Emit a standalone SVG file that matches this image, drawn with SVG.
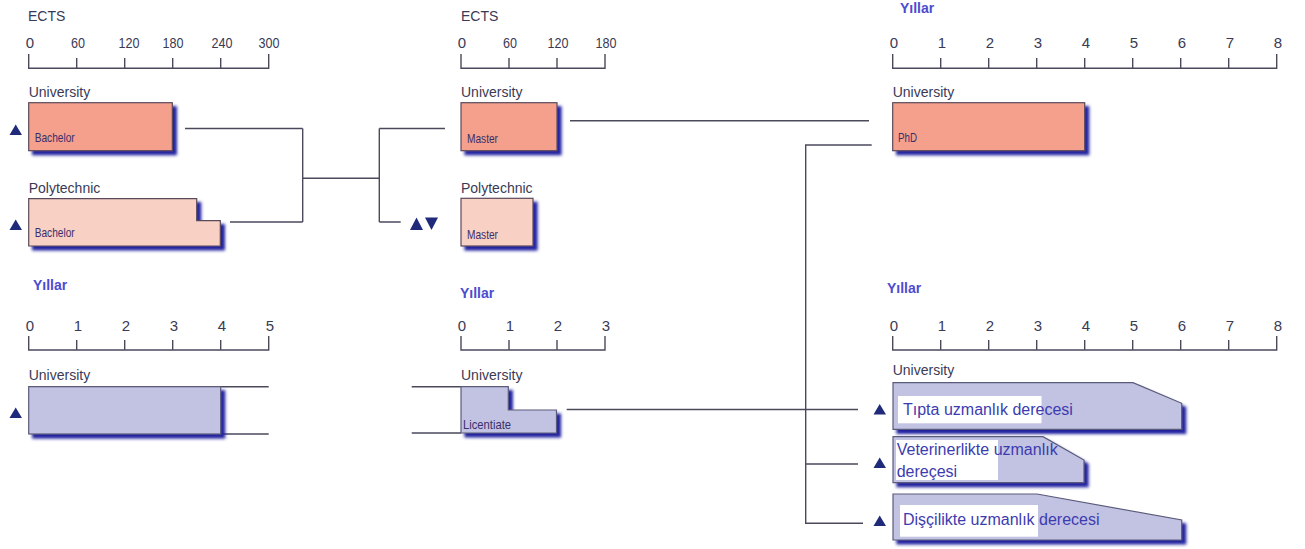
<svg xmlns="http://www.w3.org/2000/svg" width="1305" height="549" viewBox="0 0 1305 549">
<style>
.ax{fill:none;stroke:#4a4a5c;stroke-width:1.4}
.con{fill:none;stroke:#4a4a5c;stroke-width:1.4}
.t{font-family:"Liberation Sans",Arial,sans-serif;fill:#3a3a55}
.num{font-size:15px;text-anchor:middle}
.lbl{font-size:14px}
.yil{font-family:"Liberation Sans",Arial,sans-serif;font-size:14px;font-weight:bold;fill:#4c4cd0}
.in{font-family:"Liberation Sans",Arial,sans-serif;font-size:13px;fill:#3b2f6b}
.uni{fill:#f4a08c;stroke:#5a4a5a;stroke-width:1.2}
.poly{fill:#f9d0c4;stroke:#5a4a5a;stroke-width:1.2}
.yr{fill:#c2c2e2;stroke:#5a5a7a;stroke-width:1.2}
.tri{fill:#1f2a7a}
.big{font-family:"Liberation Sans",Arial,sans-serif;font-size:16px;fill:#3c3cb0}
</style>
<defs>
<filter id="sh" x="-10%" y="-20%" width="125%" height="150%">
<feGaussianBlur in="SourceAlpha" stdDeviation="1.6"/>
<feOffset dx="4" dy="4" result="b"/>
<feFlood flood-color="#2222a0"/>
<feComposite in2="b" operator="in"/>
<feMerge><feMergeNode/><feMergeNode in="SourceGraphic"/></feMerge>
</filter>
</defs>
<rect width="1305" height="549" fill="#ffffff"/>

<!-- Axes -->
<g id="axis-ects-left">
<text class="t lbl" x="28" y="21">ECTS</text>
<path class="ax" d="M28.7,54V68.3H268.7V54M76.7,68.3V58M124.7,68.3V58M172.7,68.3V58M220.7,68.3V58"/>
<text class="t num" x="30" y="48">0</text>
<text class="t num" x="78" y="48" textLength="14" lengthAdjust="spacingAndGlyphs">60</text>
<text class="t num" x="129" y="48" textLength="21" lengthAdjust="spacingAndGlyphs">120</text>
<text class="t num" x="173" y="48" textLength="21" lengthAdjust="spacingAndGlyphs">180</text>
<text class="t num" x="222" y="48" textLength="21" lengthAdjust="spacingAndGlyphs">240</text>
<text class="t num" x="269" y="48" textLength="21" lengthAdjust="spacingAndGlyphs">300</text>
</g>
<g id="axis-ects-mid">
<text class="t lbl" x="461" y="21">ECTS</text>
<path class="ax" d="M461,54V68.3H605V54M509,68.3V58M557,68.3V58"/>
<text class="t num" x="462" y="48">0</text>
<text class="t num" x="510" y="48" textLength="14" lengthAdjust="spacingAndGlyphs">60</text>
<text class="t num" x="558" y="48" textLength="21" lengthAdjust="spacingAndGlyphs">120</text>
<text class="t num" x="606" y="48" textLength="21" lengthAdjust="spacingAndGlyphs">180</text>
</g>
<g id="axis-years-topright">
<text class="yil" x="900" y="13">Yıllar</text>
<path class="ax" d="M892.7,54V68.3H1276.7V54M940.7,68.3V58M988.7,68.3V58M1036.7,68.3V58M1084.7,68.3V58M1132.7,68.3V58M1180.7,68.3V58M1228.7,68.3V58"/>
<text class="t num" x="894" y="48">0</text>
<text class="t num" x="942" y="48">1</text>
<text class="t num" x="990" y="48">2</text>
<text class="t num" x="1038" y="48">3</text>
<text class="t num" x="1086" y="48">4</text>
<text class="t num" x="1134" y="48">5</text>
<text class="t num" x="1182" y="48">6</text>
<text class="t num" x="1230" y="48">7</text>
<text class="t num" x="1278" y="48">8</text>
</g>
<g id="axis-years-left">
<text class="yil" x="33" y="290">Yıllar</text>
<path class="ax" d="M28.7,336V350H268.7V336M76.7,350V340M124.7,350V340M172.7,350V340M220.7,350V340"/>
<text class="t num" x="30" y="331">0</text>
<text class="t num" x="78" y="331">1</text>
<text class="t num" x="126" y="331">2</text>
<text class="t num" x="174" y="331">3</text>
<text class="t num" x="222" y="331">4</text>
<text class="t num" x="270" y="331">5</text>
</g>
<g id="axis-years-mid">
<text class="yil" x="460" y="298">Yıllar</text>
<path class="ax" d="M461,336V350H605V336M509,350V340M557,350V340"/>
<text class="t num" x="462" y="331">0</text>
<text class="t num" x="510" y="331">1</text>
<text class="t num" x="558" y="331">2</text>
<text class="t num" x="606" y="331">3</text>
</g>
<g id="axis-years-right">
<text class="yil" x="887" y="293">Yıllar</text>
<path class="ax" d="M892.7,336V350H1276.7V336M940.7,350V340M988.7,350V340M1036.7,350V340M1084.7,350V340M1132.7,350V340M1180.7,350V340M1228.7,350V340"/>
<text class="t num" x="894" y="331">0</text>
<text class="t num" x="942" y="331">1</text>
<text class="t num" x="990" y="331">2</text>
<text class="t num" x="1038" y="331">3</text>
<text class="t num" x="1086" y="331">4</text>
<text class="t num" x="1134" y="331">5</text>
<text class="t num" x="1182" y="331">6</text>
<text class="t num" x="1230" y="331">7</text>
<text class="t num" x="1278" y="331">8</text>
</g>

<!-- Connectors -->
<g id="connectors">
<path class="con" d="M185,128.5H302.7M230,222H302.7M302.7,128.5V222M302.7,178.3H379.3M379.3,128.5V222M379.3,128.5H445M379.3,222H400.7"/>
<path class="con" d="M570,120.7H869"/>
<path class="con" d="M871.7,145H805.7V523.3H863M805.7,464H858"/>
<path class="con" d="M28.7,386.7H268.7M221,434H268.7"/>
<path class="con" d="M411.7,386.7H508M411.7,433H461"/>
<path class="con" d="M566.7,409.5H858"/>
</g>

<!-- Nodes -->
<g id="uni-bachelor">
<text class="t lbl" x="28.7" y="97">University</text>
<polygon class="tri" points="9.5,135 22,135 15.7,124.5"/>
<rect class="uni" x="28.7" y="102.7" width="143.6" height="48" filter="url(#sh)"/>
<text class="in" x="34.7" y="141.7" textLength="40" lengthAdjust="spacingAndGlyphs">Bachelor</text>
</g>
<g id="poly-bachelor">
<text class="t lbl" x="28.7" y="193">Polytechnic</text>
<polygon class="tri" points="9.5,230 22,230 15.7,219.5"/>
<path class="poly" d="M28.7,198.7H196.7V220.7H220.3V246H28.7Z" filter="url(#sh)"/>
<text class="in" x="34.7" y="236.7" textLength="40" lengthAdjust="spacingAndGlyphs">Bachelor</text>
</g>
<g id="uni-years">
<text class="t lbl" x="28.7" y="380">University</text>
<polygon class="tri" points="9.5,418 22,418 15.7,407.5"/>
<rect class="yr" x="28.7" y="386.7" width="192" height="47.3" filter="url(#sh)"/>
</g>
<g id="uni-master">
<text class="t lbl" x="461" y="97">University</text>
<rect class="uni" x="461" y="102.7" width="96" height="48" filter="url(#sh)"/>
<text class="in" x="467" y="143.3" textLength="31" lengthAdjust="spacingAndGlyphs">Master</text>
</g>
<g id="poly-master">
<text class="t lbl" x="461" y="193">Polytechnic</text>
<polygon class="tri" points="410,230 423,230 416.5,217.5"/>
<polygon class="tri" points="425,217.5 438,217.5 431.5,230"/>
<rect class="poly" x="461" y="198.3" width="72" height="47.7" filter="url(#sh)"/>
<text class="in" x="467" y="239.3" textLength="31" lengthAdjust="spacingAndGlyphs">Master</text>
</g>
<g id="uni-licentiate">
<text class="t lbl" x="461" y="380">University</text>
<path class="yr" d="M461,386.7H508.3V410H556.5V433H461Z" filter="url(#sh)"/>
<text class="in" x="463" y="428.5" textLength="48" lengthAdjust="spacingAndGlyphs">Licentiate</text>
</g>
<g id="uni-phd">
<text class="t lbl" x="892.7" y="97">University</text>
<rect class="uni" x="892.7" y="102.7" width="192" height="48" filter="url(#sh)"/>
<text class="in" x="898" y="141.7" textLength="19" lengthAdjust="spacingAndGlyphs">PhD</text>
</g>
<g id="tipta">
<text class="t lbl" x="892.7" y="375">University</text>
<polygon class="tri" points="873.5,414.5 886,414.5 879.7,404"/>
<path class="yr" d="M893,382.7H1133L1181.7,403.3V429.3H893Z" filter="url(#sh)"/>
<rect x="898" y="396" width="143.5" height="27.3" fill="#ffffff"/>
<text class="big" x="903" y="415">Tıpta uzmanlık derecesi</text>
</g>
<g id="veteriner">
<polygon class="tri" points="873.5,468 886,468 879.7,457.5"/>
<path class="yr" d="M893,436.7H1043L1084,460V482.7H893Z" filter="url(#sh)"/>
<rect x="896" y="440" width="102" height="40" fill="#ffffff"/>
<text class="big" x="896.7" y="455">Veterinerlikte uzmanlık</text>
<text class="big" x="896.7" y="477">dereçesi</text>
</g>
<g id="discilikte">
<polygon class="tri" points="873.5,526 886,526 879.7,515.5"/>
<path class="yr" d="M893,494H1037L1181.7,520V540H893Z" filter="url(#sh)"/>
<rect x="900" y="505" width="138" height="31.7" fill="#ffffff"/>
<text class="big" x="903" y="525">Dişçilikte uzmanlık derecesi</text>
</g>
</svg>
